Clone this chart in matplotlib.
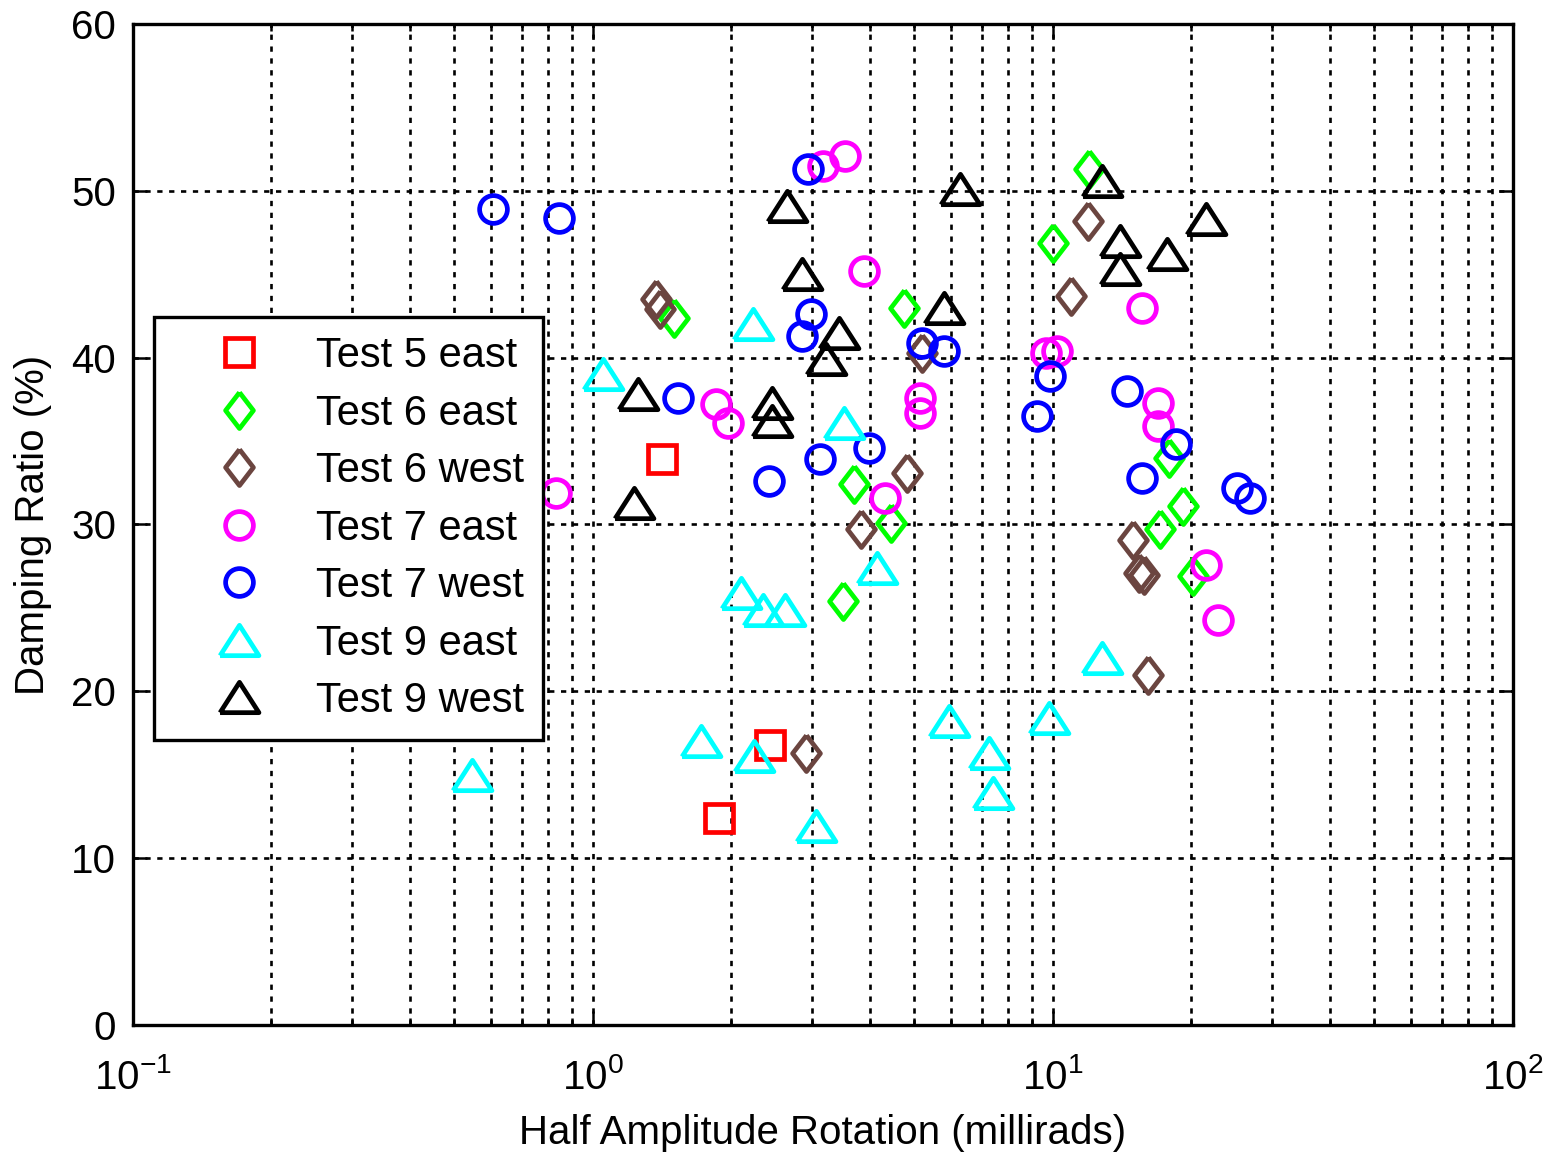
import matplotlib
matplotlib.use("Agg")
import matplotlib.pyplot as plt
from matplotlib.ticker import LogLocator, NullFormatter

plt.rcParams['font.family'] = ['Liberation Sans', 'DejaVu Sans']
plt.rcParams['mathtext.fontset'] = 'custom'
plt.rcParams['mathtext.rm'] = 'Liberation Sans'
plt.rcParams['font.size'] = 29

# data (x in millirads, y in %)
t5e_x = [1.41, 2.42, 1.88]
t5e_y = [33.9, 16.8, 12.4]

t6e_x = [1.50, 12.0, 10.0, 4.74, 3.69, 4.45, 3.50, 17.9, 19.2, 17.1, 20.2]
t6e_y = [42.4, 51.3, 46.9, 43.0, 32.4, 30.1, 25.4, 34.0, 31.1, 29.7, 26.9]

t6w_x = [1.37, 1.40, 11.9, 10.95, 5.2, 4.82, 3.82, 14.9, 15.4, 15.8, 16.1, 2.91]
t6w_y = [43.5, 42.9, 48.2, 43.7, 40.3, 33.1, 29.7, 29.1, 27.1, 27.0, 21.0, 16.3]

t7e_x = [3.16, 3.54, 3.88, 1.85, 1.97, 0.83, 5.13, 5.13, 4.32, 9.67, 10.2,
         15.6, 16.9, 16.9, 21.5, 22.9]
t7e_y = [51.5, 52.1, 45.2, 37.2, 36.1, 31.9, 37.6, 36.7, 31.6, 40.3, 40.4,
         43.0, 37.3, 35.9, 27.6, 24.3]

t7w_x = [0.605, 0.842, 2.93, 2.98, 2.85, 1.53, 2.41, 3.12, 3.99, 5.2, 5.81,
         9.84, 9.25, 14.5, 15.6, 18.5, 25.1, 26.8]
t7w_y = [48.9, 48.4, 51.3, 42.6, 41.3, 37.6, 32.6, 33.9, 34.6, 40.9, 40.4,
         38.9, 36.5, 38.0, 32.8, 34.8, 32.2, 31.6]

t9e_x = [0.545, 1.05, 2.23, 3.52, 4.15, 2.10, 2.34, 2.61, 1.72, 2.24, 3.05,
         5.95, 7.27, 7.39, 9.8, 12.8]
t9e_y = [15.0, 39.0, 42.0, 36.1, 27.4, 25.9, 24.9, 24.9, 17.0, 16.1, 11.9,
         18.2, 16.3, 13.9, 18.4, 22.0]

t9w_x = [1.25, 1.23, 2.64, 2.85, 3.42, 3.21, 2.45, 2.45, 6.28, 5.81, 12.8,
         14.0, 14.0, 17.7, 21.5]
t9w_y = [37.8, 31.3, 49.1, 45.0, 41.5, 39.9, 37.3, 36.2, 50.1, 43.0, 50.6,
         47.0, 45.3, 46.2, 48.3]

labels = ['Test 5 east', 'Test 6 east', 'Test 6 west', 'Test 7 east',
          'Test 7 west', 'Test 9 east', 'Test 9 west']

# matlab-ish marker shapes
tri = [(-1, -0.78), (1, -0.78), (0, 0.78), (-1, -0.78)]
dia = [(0, 1), (0.77, 0), (0, -1), (-0.77, 0), (0, 1)]

series = [
    (t5e_x, t5e_y, 's', 19.5, '#ff0000'),
    (t6e_x, t6e_y, dia, 26, '#00ff00'),
    (t6w_x, t6w_y, dia, 26, '#6b4540'),
    (t7e_x, t7e_y, 'o', 20, '#ff00ff'),
    (t7w_x, t7w_y, 'o', 20, '#0000ff'),
    (t9e_x, t9e_y, tri, 28, '#00ffff'),
    (t9w_x, t9w_y, tri, 28, '#000000'),
]

fig = plt.figure(figsize=(15.57, 11.6), dpi=100)
ax = fig.add_axes([0.0854, 0.1164, 0.8863, 0.8629])

for (xs, ys, mk, ms, col), lab in zip(series, labels):
    ax.plot(xs, ys, linestyle='none', marker=mk, markersize=ms,
            markerfacecolor='none', markeredgecolor=col, markeredgewidth=3.4,
            label=lab)

ax.set_xscale('log')
ax.set_xlim(0.1, 100)
ax.set_ylim(0, 60)
ax.set_yticks([0, 10, 20, 30, 40, 50, 60])
ax.xaxis.set_minor_locator(LogLocator(base=10, subs=range(2, 10)))
ax.xaxis.set_minor_formatter(NullFormatter())

ax.grid(True, which='major', color='black', linestyle=(0, (2, 2.5)), linewidth=1.9)
ax.grid(True, which='minor', axis='x', color='black', linestyle=(0, (2, 2.5)), linewidth=1.9)

ax.tick_params(which='both', direction='in', top=True, right=True, width=1.8)
ax.tick_params(which='major', length=10)
ax.tick_params(which='minor', length=5)
ax.tick_params(axis='y', pad=12)
ax.tick_params(axis='x', pad=24)
for sp in ax.spines.values():
    sp.set_linewidth(2.4)

ax.set_xlabel('Half Amplitude Rotation (millirads)', labelpad=12)
ax.set_ylabel('Damping Ratio (%)', labelpad=14)

leg = ax.legend(loc='upper left', bbox_to_anchor=(0.015, 0.707), numpoints=1,
                fancybox=False, edgecolor='black', framealpha=1,
                handlelength=3.2, handletextpad=0.25, labelspacing=0.42,
                borderpad=0.45, borderaxespad=0, prop={'size': 30})
leg.get_frame().set_linewidth(2.4)

fig.savefig('out.png', dpi=100)
